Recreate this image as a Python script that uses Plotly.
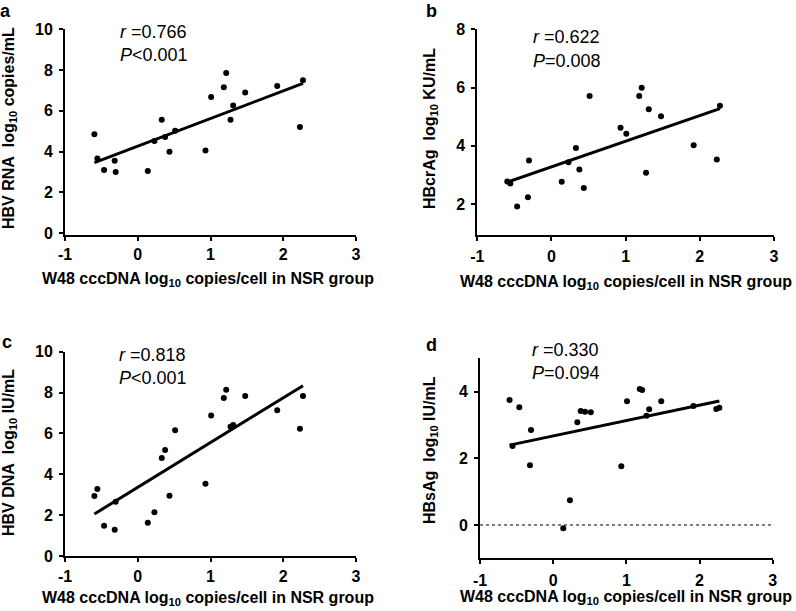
import numpy as np
import plotly.graph_objects as go

# ---- data ----
cccdna_w48 = [-0.596, -0.555, -0.463, -0.317, -0.303, 0.138, 0.229, 0.33, 0.376, 0.436, 0.514,
              0.931, 1.009, 1.183, 1.216, 1.275, 1.312, 1.477, 1.917, 2.229, 2.271]
hbv_rna = [4.85, 3.66, 3.09, 3.55, 2.99, 3.04, 4.51, 5.56, 4.71, 3.99, 5.02,
           4.05, 6.67, 7.16, 7.86, 5.56, 6.26, 6.90, 7.21, 5.20, 7.50]
hbcrag = [2.77, 2.70, 1.91, 2.23, 3.49, 2.76, 3.43, 3.92, 3.18, 2.55, 5.71,
          4.62, 4.41, 5.71, 5.99, 3.07, 5.25, 5.01, 4.02, 3.53, 5.37]
hbv_dna = [2.94, 3.28, 1.48, 1.29, 2.66, 1.63, 2.14, 4.80, 5.19, 2.95, 6.15,
           3.54, 6.88, 7.73, 8.14, 6.33, 6.41, 7.83, 7.14, 6.23, 7.83]
hbsag = [3.75, 2.37, 3.53, 1.79, 2.85, -0.10, 0.74, 3.08, 3.42, 3.40, 3.38,
         1.76, 3.71, 4.08, 4.05, 3.28, 3.47, 3.71, 3.57, 3.48, 3.52]

panel_letters = ["a", "b", "c", "d"]
r_labels = ["0.766", "0.622", "0.818", "0.330"]
p_labels = ["<0.001", "=0.008", "<0.001", "=0.094"]
y_titles = ["HBV RNA\u00a0\u00a0log<sub>10</sub> copies/mL",
            "HBcrAg\u00a0\u00a0log<sub>10</sub> KU/mL",
            "HBV DNA\u00a0\u00a0log<sub>10</sub> IU/mL",
            "HBsAg\u00a0\u00a0log<sub>10</sub> IU/mL"]
x_title = "W48 cccDNA log<sub>10</sub> copies/cell in NSR group"
x_ticks = [-1, 0, 1, 2, 3]
x_ticktext = ["-1", "0", "1", "2", "3"]
y_ticks = [[0, 2, 4, 6, 8, 10], [2, 4, 6, 8], [0, 2, 4, 6, 8, 10], [0, 2, 4]]
y_values = [hbv_rna, hbcrag, hbv_dna, hbsag]

# ---- layout geometry (pixels) ----
W, H = 796, 611
def px(x): return x / W
def py(y): return 1 - y / H

FONT = "Arial, Liberation Sans, sans-serif"
geo = [
    dict(x0=65, x1=356, ytop=29.3, ybot=235, yr=[-0.1, 10], sto=0,
         ytit=(9, 128), xtit=(208, 279), stat=(118, 32, 55), lab=(5, 11)),
    dict(x0=477.3, x1=774, ytop=29.3, ybot=234.5, yr=[0.95, 8], sto=2,
         ytit=(430, 128), xtit=(626, 282), stat=(531, 37, 61), lab=(431, 11)),
    dict(x0=65, x1=356, ytop=351.7, ybot=556, yr=[0, 10], sto=1,
         ytit=(9, 453), xtit=(208, 598), stat=(117, 355, 378), lab=(7, 342)),
    dict(x0=480, x1=772.7, ytop=358.3, ybot=558.3, yr=[-1, 5], sto=2,
         ytit=(430, 450), xtit=(626, 597), stat=(530, 350, 373), lab=(431, 345)),
]

fig = go.Figure()
layout = dict(width=W, height=H, margin=dict(l=0, r=0, t=0, b=0),
              paper_bgcolor="white", plot_bgcolor="white", showlegend=False,
              font=dict(family=FONT, color="black"))
annotations = []
shapes = []

xs = np.array(cccdna_w48)
for i, g in enumerate(geo):
    n = "" if i == 0 else str(i + 1)
    ys = np.array(y_values[i])
    fig.add_trace(go.Scatter(x=xs, y=ys, mode="markers",
                             marker=dict(color="black", size=6),
                             xaxis="x" + n, yaxis="y" + n))
    k, b = np.polyfit(xs, ys, 1)
    xl = np.array([xs.min(), xs.max()])
    fig.add_trace(go.Scatter(x=xl, y=k * xl + b, mode="lines",
                             line=dict(color="black", width=3),
                             xaxis="x" + n, yaxis="y" + n))
    axcommon = dict(showgrid=False, zeroline=False, showline=True, linecolor="black",
                    linewidth=2, ticks="outside", ticklen=4, tickwidth=2, tickcolor="black",
                    automargin=False,
                    tickfont=dict(family=FONT, size=16, color="black", weight="bold"))
    layout["xaxis" + n] = dict(axcommon, domain=[px(g["x0"]), px(g["x1"])],
                               range=[-1, 3], tickvals=x_ticks, ticktext=x_ticktext,
                               anchor="y" + n, ticklabelstandoff=g["sto"])
    layout["yaxis" + n] = dict(axcommon, domain=[py(g["ybot"]), py(g["ytop"])],
                               range=g["yr"], tickvals=y_ticks[i], anchor="x" + n,
                               ticklabelstandoff=3)
    # axis titles
    annotations.append(dict(text="<b>" + y_titles[i] + "</b>", textangle=-90,
                            x=px(g["ytit"][0]), y=py(g["ytit"][1]), xref="paper", yref="paper",
                            xanchor="center", yanchor="middle", showarrow=False,
                            font=dict(size=16)))
    annotations.append(dict(text="<b>" + x_title + "</b>",
                            x=px(g["xtit"][0]), y=py(g["xtit"][1]), xref="paper", yref="paper",
                            xanchor="center", yanchor="middle", showarrow=False,
                            font=dict(size=16)))
    # statistics
    annotations.append(dict(text="<i>r</i> =" + r_labels[i],
                            x=px(g["stat"][0]), y=py(g["stat"][1]), xref="paper", yref="paper",
                            xanchor="left", yanchor="middle", showarrow=False,
                            font=dict(size=18)))
    annotations.append(dict(text="<i>P</i>" + p_labels[i],
                            x=px(g["stat"][0]), y=py(g["stat"][2]), xref="paper", yref="paper",
                            xanchor="left", yanchor="middle", showarrow=False,
                            font=dict(size=18)))
    # panel letter
    annotations.append(dict(text="<b>" + panel_letters[i] + "</b>",
                            x=px(g["lab"][0]), y=py(g["lab"][1]), xref="paper", yref="paper",
                            xanchor="center", yanchor="middle", showarrow=False,
                            font=dict(size=18)))

# dotted zero reference line in panel d
shapes.append(dict(type="line", xref="x4", yref="y4", x0=-1, x1=3, y0=0, y1=0,
                   line=dict(color="black", width=1, dash="dot")))

layout["annotations"] = annotations
layout["shapes"] = shapes
fig.update_layout(**layout)
fig.write_html("out.html", config={"displayModeBar": False},
               post_script="document.body.style.margin='0';document.body.style.overflow='hidden';")
